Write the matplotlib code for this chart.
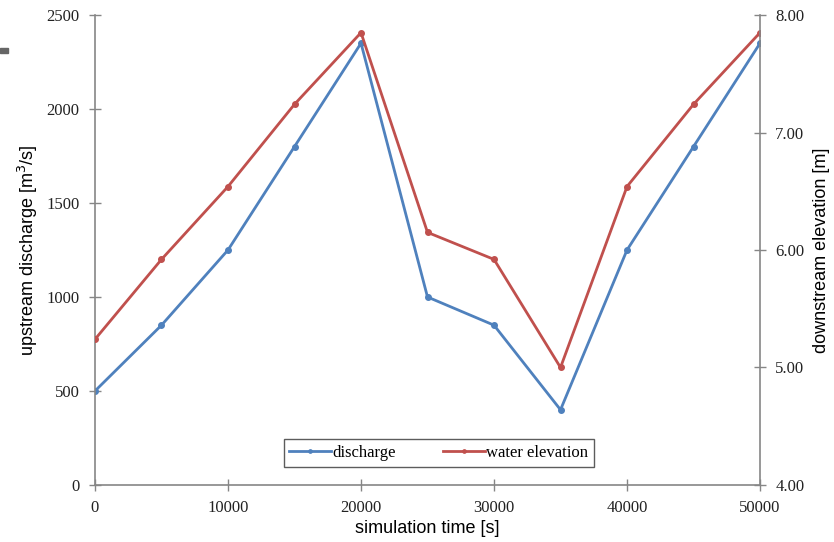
import matplotlib.pyplot as plt
from matplotlib.patches import Rectangle

# data
time = [0, 5000, 10000, 15000, 20000, 25000, 30000, 35000, 40000, 45000, 50000]
discharge = [500, 850, 1250, 1800, 2350, 1000, 850, 400, 1250, 1800, 2350]
elevation = [5.24, 5.92, 6.54, 7.24, 7.85, 6.15, 5.92, 5.00, 6.54, 7.24, 7.85]

serif = 'Liberation Serif'
sans = 'Liberation Sans'
blue = '#4F81BD'
red = '#C0504D'
spine = '#868686'

fig = plt.figure(figsize=(8.34, 5.42), dpi=100)
ax = fig.add_axes([0.1139, 0.1052, 0.7974, 0.8671])
ax2 = ax.twinx()

l1, = ax.plot(time, discharge, color=blue, lw=2, marker='o', ms=4, label='discharge')
l2, = ax2.plot(time, elevation, color=red, lw=2, marker='o', ms=4, label='water elevation')

ax.set_xlim(0, 50000)
ax.set_ylim(0, 2500)
ax2.set_ylim(4, 8)
ax.set_xticks(range(0, 50001, 10000))
ax.set_yticks(range(0, 2501, 500))
ax2.set_yticks([4, 5, 6, 7, 8])
ax2.set_yticklabels(['4.00', '5.00', '6.00', '7.00', '8.00'])

for a in (ax, ax2):
    a.spines['top'].set_visible(False)
    for s in ('left', 'right', 'bottom'):
        a.spines[s].set_color(spine)
        a.spines[s].set_linewidth(1.2)
    a.tick_params(direction='inout', length=8, width=1, color=spine,
                  labelsize=12, labelcolor='#222222', pad=7)
    for lab in a.get_xticklabels() + a.get_yticklabels():
        lab.set_fontfamily(serif)
ax.spines['right'].set_visible(False)
ax2.spines['left'].set_visible(False)
ax2.spines['bottom'].set_visible(False)

ax.set_xlabel('simulation time [s]', family=sans, fontsize=13, labelpad=3)
ax.set_ylabel('upstream discharge [m$^3$/s]', family=sans, fontsize=13, labelpad=5)
ax2.set_ylabel('downstream elevation [m]', family=sans, fontsize=13, labelpad=6)

leg = ax.legend([l1, l2], ['discharge', 'water elevation'], ncol=2, loc='center',
                bbox_to_anchor=(0.517, 0.068), prop={'family': serif, 'size': 12},
                fancybox=False, edgecolor='#333333', handlelength=2.5,
                handletextpad=0.1, columnspacing=2.8, borderpad=0.35,
                markerscale=0.6)
leg.get_frame().set_linewidth(1)

# small gray mark at the left edge
fig.patches.append(Rectangle((0, 0.902), 0.009, 0.010, transform=fig.transFigure,
                             color='#666666', zorder=5))

plt.savefig('out.png', dpi=100)
